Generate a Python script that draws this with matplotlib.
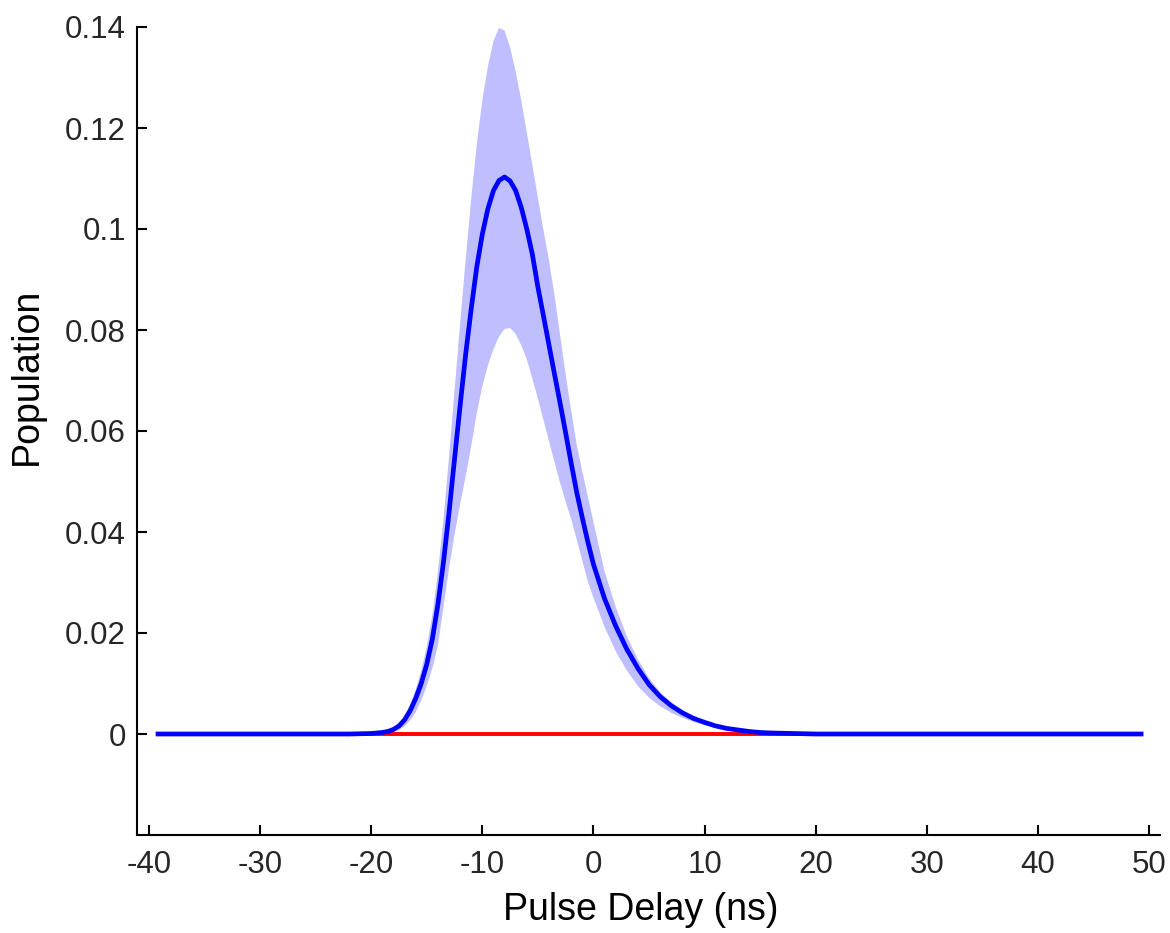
import numpy as np
import matplotlib
matplotlib.use('Agg')
import matplotlib.pyplot as plt

plt.rcParams['font.family'] = ['Liberation Sans', 'DejaVu Sans']

# pulse delay (ns)
delay = [-39.4, -30, -22,
         -20, -19.5, -19, -18.5, -18, -17.5, -17, -16.5, -16, -15.5, -15, -14.5,
         -14, -13.5, -13, -12.5, -12, -11.5, -11, -10.5, -10, -9.5, -9, -8.5,
         -8, -7.5, -7, -6.5, -6, -5.5, -5, -4.5, -4, -3.5, -3, -2.5, -2,
         -1.5, -1, -0.5, 0,
         1, 2, 3, 4, 5, 6, 7, 8, 9, 10, 11, 12, 13, 14, 15, 16,
         18, 20, 30, 40, 49.5]

pop_mean = [0, 0, 0,
            0.0001, 0.0002, 0.0003, 0.0005, 0.0009, 0.0016, 0.0028, 0.0046, 0.0070, 0.0100, 0.0138, 0.0188,
            0.0256, 0.0340, 0.0438, 0.0545, 0.0650, 0.0752, 0.0842, 0.0925, 0.0990, 0.1040, 0.1076, 0.1096,
            0.1103, 0.1095, 0.1076, 0.1043, 0.1000, 0.0950, 0.0885, 0.0828, 0.0770, 0.0712, 0.0655, 0.0596, 0.0536,
            0.0478, 0.0428, 0.0380, 0.0336,
            0.0268, 0.0214, 0.0168, 0.0130, 0.0098, 0.0074, 0.0056, 0.0042, 0.0031, 0.0023, 0.0016, 0.0011, 0.0008, 0.0005, 0.0003, 0.0002,
            0.0001, 0, 0, 0, 0]

pop_upper = [0, 0, 0,
             0.0001, 0.0003, 0.0004, 0.0006, 0.0011, 0.0020, 0.0035, 0.0058, 0.0088, 0.0125, 0.0173, 0.0235,
             0.0320, 0.0425, 0.0548, 0.0681, 0.0813, 0.0940, 0.1060, 0.1168, 0.1255, 0.1322, 0.1372, 0.1398,
             0.1393, 0.1360, 0.1312, 0.1255, 0.1192, 0.1127, 0.1062, 0.0998, 0.0938, 0.0868, 0.0790, 0.0712, 0.0640,
             0.0572, 0.0520, 0.0470, 0.0420,
             0.0322, 0.0252, 0.0194, 0.0148, 0.0111, 0.0083, 0.0063, 0.0047, 0.0035, 0.0026, 0.0018, 0.0012, 0.0009, 0.0006, 0.0003, 0.0002,
             0.0001, 0, 0, 0, 0]

pop_lower = [0, 0, 0,
             0.0000, 0.0001, 0.0001, 0.0002, 0.0004, 0.0008, 0.0015, 0.0027, 0.0043, 0.0066, 0.0095, 0.0130,
             0.0175, 0.0250, 0.0328, 0.0395, 0.0455, 0.0510, 0.0570, 0.0635, 0.0688, 0.0730, 0.0762, 0.0787,
             0.0802, 0.0804, 0.0792, 0.0770, 0.0742, 0.0704, 0.0664, 0.0622, 0.0580, 0.0538, 0.0497, 0.0460, 0.0425,
             0.0385, 0.0343, 0.0302, 0.0270,
             0.0212, 0.0164, 0.0126, 0.0095, 0.0072, 0.0055, 0.0042, 0.0032, 0.0024, 0.0018, 0.0012, 0.0008, 0.0006, 0.0004, 0.0003, 0.0002,
             0.0001, 0, 0, 0, 0]

# second population stays at zero over the whole scan
pop_other = [0, 0]
delay_other = [-39.4, 49.5]

x_ticks = [-40, -30, -20, -10, 0, 10, 20, 30, 40, 50]
y_ticks = [0, 0.02, 0.04, 0.06, 0.08, 0.1, 0.12, 0.14]
y_ticklabels = ['0', '0.02', '0.04', '0.06', '0.08', '0.1', '0.12', '0.14']

fig = plt.figure(figsize=(11.7, 9.33), dpi=100)
ax = fig.add_axes([137 / 1170, 98 / 933, 1023 / 1170, 808 / 933])

ax.fill_between(delay, pop_lower, pop_upper, facecolor=(0.75, 0.75, 1.0),
                edgecolor='none', zorder=1)
ax.plot(delay_other, pop_other, color='red', lw=2.8, zorder=2,
        solid_capstyle='butt')
ax.plot(delay, pop_mean, color='blue', lw=3.4, zorder=3,
        solid_capstyle='butt')

ax.set_xlim(-41.08, 50.99)
ax.set_ylim(-0.02, 0.14)
ax.set_xticks(x_ticks)
ax.set_xticklabels([str(t) for t in x_ticks])
ax.set_yticks(y_ticks)
ax.set_yticklabels(y_ticklabels)

for s in ['top', 'right']:
    ax.spines[s].set_visible(False)
for s in ['left', 'bottom']:
    ax.spines[s].set_linewidth(1.5)
    ax.spines[s].set_color('black')

ax.tick_params(direction='in', length=7, width=1.5, labelsize=22.5,
               labelcolor='#262626', color='black')
ax.tick_params(axis='y', pad=8)
ax.tick_params(axis='x', pad=11)

ax.set_xlabel('Pulse Delay (ns)', fontsize=27)
ax.set_ylabel('Population', fontsize=27, va='center')
ax.xaxis.label.set_va('baseline')
ax.xaxis.set_label_coords(0.4927, -0.105)
ax.yaxis.set_label_coords(-0.1075, 0.567)

fig.savefig('out.png', dpi=100)
